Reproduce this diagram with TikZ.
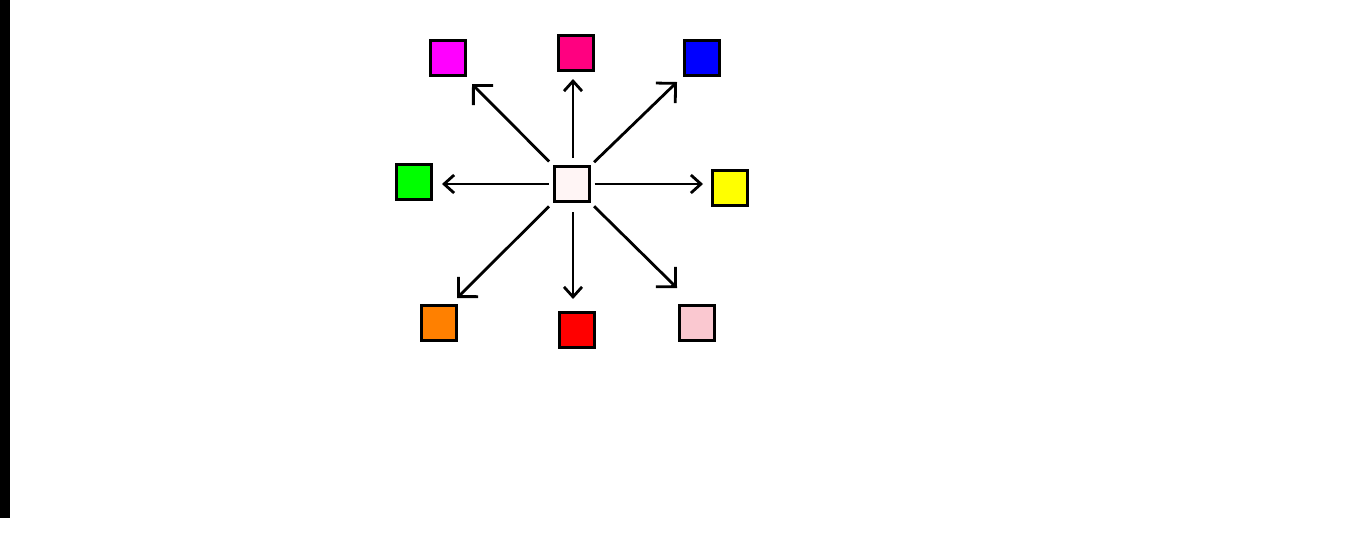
\documentclass[tikz,border=0pt]{standalone}
\usetikzlibrary{arrows.meta}
\definecolor{cmag}{RGB}{255,0,255}
\definecolor{ctop}{RGB}{255,0,128}
\definecolor{cblue}{RGB}{0,0,255}
\definecolor{cgreen}{RGB}{0,255,0}
\definecolor{cyellow}{RGB}{255,255,0}
\definecolor{corange}{RGB}{255,128,0}
\definecolor{cred}{RGB}{255,0,0}
\definecolor{cpink}{RGB}{250,200,208}
\definecolor{ccenter}{RGB}{255,245,245}
\tikzset{
  sq/.style={draw=black, line width=1.5pt, minimum size=17.5pt, inner sep=0pt, rectangle},
  straightarr/.style={line width=1.4pt, -{Straight Barb[length=5pt,width=9pt]}},
  diagarr/.style={line width=1.4pt, -{Straight Barb[length=7pt,width=14pt]}}
}
\begin{document}
\begin{tikzpicture}[x=0.5pt,y=-0.5pt]
\useasboundingbox (0,0) rectangle (1353,558);
\fill[black] (0,0) rectangle (10,518);
\node[sq, fill=ccenter] (c) at (571.5,184) {};
\node[sq, fill=cmag] (m) at (448,58) {};
\node[sq, fill=ctop] (t) at (576,53) {};
\node[sq, fill=cblue] (b) at (702,58) {};
\node[sq, fill=cgreen] (g) at (414,182) {};
\node[sq, fill=cyellow] (y) at (730,188) {};
\node[sq, fill=corange] (o) at (439,323) {};
\node[sq, fill=cred] (r) at (577,330) {};
\node[sq, fill=cpink] (p) at (697,323) {};
% arrow tips
\coordinate (tU) at (573,79);
\coordinate (tL) at (442,184);
\coordinate (tR) at (703,184);
\coordinate (tD) at (573,299);
\coordinate (tUL) at (472,84);
\coordinate (tUR) at (677,82);
\coordinate (tLL) at (457,298);
\coordinate (tLR) at (677,288);
\draw[straightarr, shorten <=3.5pt] (c.north -| tU) -- (tU);
\draw[straightarr, shorten <=2pt] (c.west |- tL) -- (tL);
\draw[straightarr, shorten <=2pt] (c.east |- tR) -- (tR);
\draw[straightarr, shorten <=4.5pt] (c.south -| tD) -- (tD);
\draw[diagarr, shorten <=2.5pt] (c) -- (tUL);
\draw[diagarr, shorten <=2.5pt] (c) -- (tUR);
\draw[diagarr, shorten <=2.5pt] (c) -- (tLL);
\draw[diagarr, shorten <=2.5pt] (c) -- (tLR);
\end{tikzpicture}
\end{document}
